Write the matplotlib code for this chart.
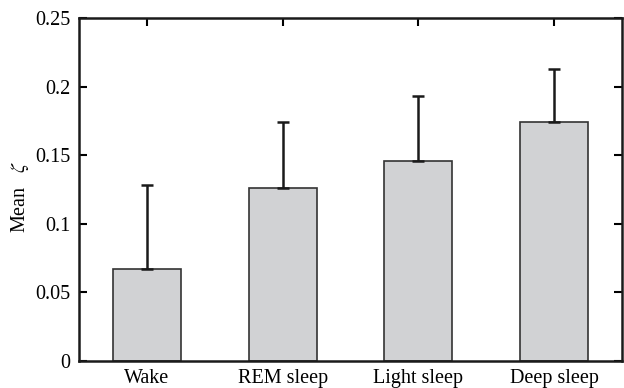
import numpy as np
import matplotlib
matplotlib.use("Agg")
import matplotlib.pyplot as plt

stages = ["Wake", "REM sleep", "Light sleep", "Deep sleep"]
mean_zeta = [0.067, 0.126, 0.146, 0.174]
err_up = [0.061, 0.048, 0.047, 0.039]

plt.rcParams["font.family"] = ["Liberation Serif", "DejaVu Serif"]
plt.rcParams["mathtext.fontset"] = "stix"

fig = plt.figure(figsize=(6.24, 3.88), dpi=100)
ax = fig.add_axes([79/624, 1 - 361/388, 543/624, 343/388])

x = np.arange(1, len(stages) + 1)
ax.bar(x, mean_zeta, width=0.5, color="#d1d2d4", edgecolor="#333333", linewidth=1.2, zorder=2)
# only the upper half of each error bar is drawn
ax.errorbar(x, mean_zeta, yerr=[np.zeros(len(x)), err_up], fmt="none",
            ecolor="#1a1a1a", elinewidth=1.8, capsize=4, capthick=1.8, zorder=3)

ax.set_xlim(0.5, 4.5)
ax.set_ylim(0, 0.25)
ax.set_xticks(x)
ax.set_xticklabels(stages)
ax.set_yticks([0, 0.05, 0.1, 0.15, 0.2, 0.25])
ax.set_yticklabels(["0", "0.05", "0.1", "0.15", "0.2", "0.25"])
ax.tick_params(direction="in", top=True, right=True, length=6, width=1.5, labelsize=14.5)
ax.tick_params(axis="x", pad=6)
ax.tick_params(axis="y", pad=6)
for s in ax.spines.values():
    s.set_linewidth(1.8)
    s.set_color("#1a1a1a")
ax.set_ylabel(r"Mean   $\zeta$", fontsize=14.5)
ax.yaxis.set_label_coords(-0.088, 0.48)

fig.savefig("out.png", dpi=100)
